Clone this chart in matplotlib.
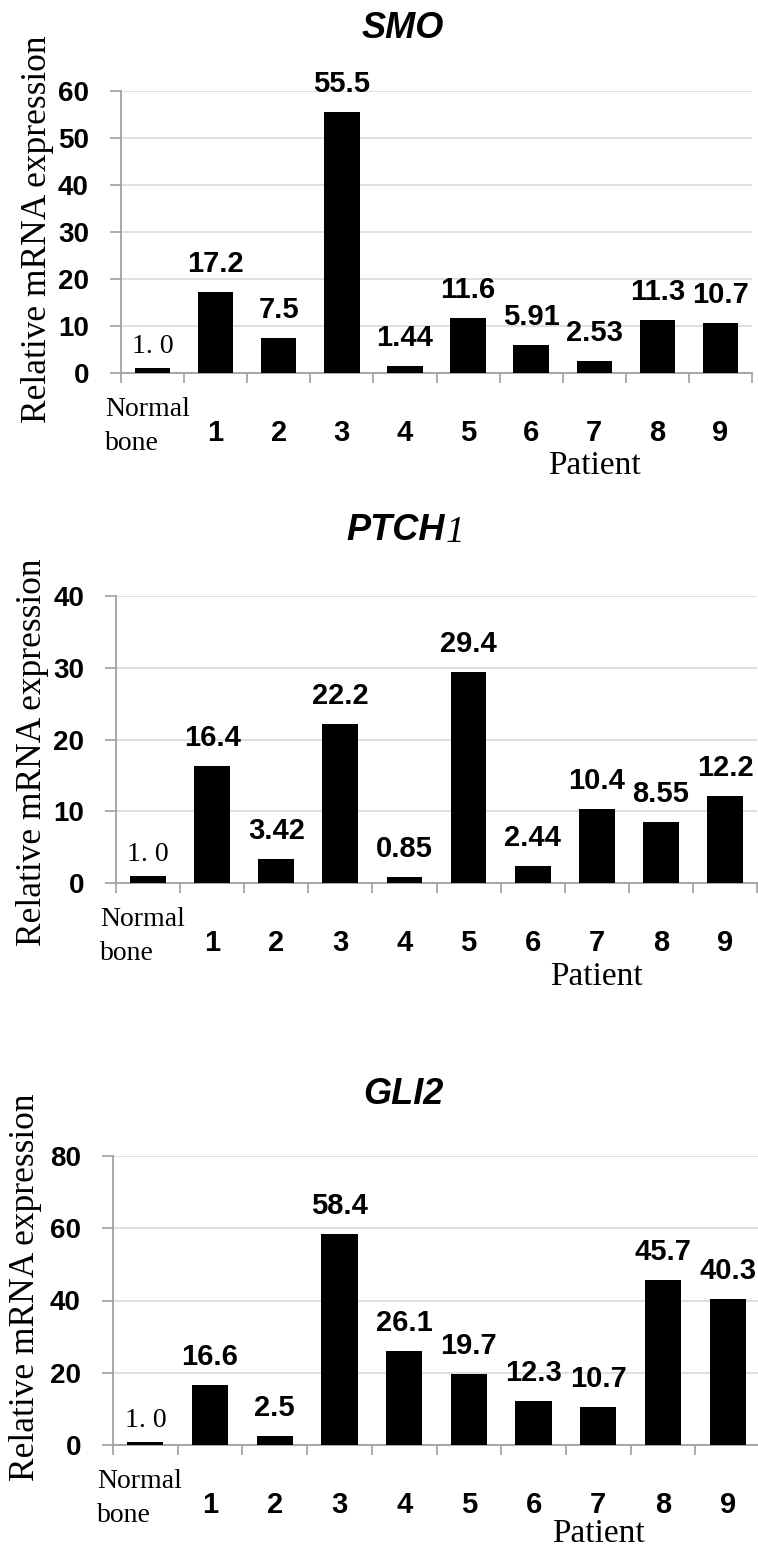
import matplotlib
matplotlib.use("Agg")
import matplotlib.pyplot as plt
import numpy as np

# ---------------- data ----------------
categories = ["Normal\nbone", "1", "2", "3", "4", "5", "6", "7", "8", "9"]

smo_values = [1.0, 17.2, 7.5, 55.5, 1.44, 11.6, 5.91, 2.53, 11.3, 10.7]
smo_labels = ["1. 0", "17.2", "7.5", "55.5", "1.44", "11.6", "5.91", "2.53", "11.3", "10.7"]
smo_yticks = [0, 10, 20, 30, 40, 50, 60]

ptch1_values = [1.0, 16.4, 3.42, 22.2, 0.85, 29.4, 2.44, 10.4, 8.55, 12.2]
ptch1_labels = ["1. 0", "16.4", "3.42", "22.2", "0.85", "29.4", "2.44", "10.4", "8.55", "12.2"]
ptch1_yticks = [0, 10, 20, 30, 40]

gli2_values = [1.0, 16.6, 2.5, 58.4, 26.1, 19.7, 12.3, 10.7, 45.7, 40.3]
gli2_labels = ["1. 0", "16.6", "2.5", "58.4", "26.1", "19.7", "12.3", "10.7", "45.7", "40.3"]
gli2_yticks = [0, 20, 40, 60, 80]

ylabel_text = "Relative mRNA expression"
xlabel_text = "Patient"

# ---------------- layout ----------------
W, H = 758, 1549
SANS = ["Liberation Sans", "DejaVu Sans"]
SERIF = ["Liberation Serif", "DejaVu Serif"]
GRAY = "#a0a0a0"
GRID = "#d9d9d9"


def pt(px):
    return px * 0.72


fig = plt.figure(figsize=(W / 100, H / 100), dpi=100)

panels = [
    dict(title="SMO", values=smo_values, labels=smo_labels, yticks=smo_yticks,
         left=121, right=752, y0=373, ytop=90.7, title_y=28, ylab_x=38, ylab_y=229,
         patient_dy=93),
    dict(title="PTCH", values=ptch1_values, labels=ptch1_labels, yticks=ptch1_yticks,
         left=116, right=757, y0=883.3, ytop=596, title_y=531, ylab_x=33, ylab_y=752,
         patient_dy=93),
    dict(title="GLI2", values=gli2_values, labels=gli2_labels, yticks=gli2_yticks,
         left=113, right=760, y0=1445.3, ytop=1155.7, title_y=1094, ylab_x=26, ylab_y=1287,
         patient_dy=88),
]

for k, p in enumerate(panels):
    ax = fig.add_axes([p["left"] / W, 1 - p["y0"] / H,
                       (p["right"] - p["left"]) / W, (p["y0"] - p["ytop"]) / H])
    x = np.arange(len(categories))
    ax.bar(x, p["values"], width=0.56, color="black", zorder=3)
    ax.set_xlim(-0.5, len(categories) - 0.5)
    ax.set_ylim(p["yticks"][0], p["yticks"][-1])
    ax.set_yticks(p["yticks"])
    ax.set_yticklabels([str(t) for t in p["yticks"]], fontfamily=SANS,
                       fontweight="bold", fontsize=20)
    ax.yaxis.grid(True, color=GRID, lw=1.2, zorder=0)
    ax.set_axisbelow(True)
    for s in ("top", "right"):
        ax.spines[s].set_visible(False)
    for s in ("left", "bottom"):
        ax.spines[s].set_color(GRAY)
        ax.spines[s].set_linewidth(1.3)
    ax.set_xticks(np.arange(-0.5, len(categories), 1))
    ax.set_xticklabels([])
    ax.tick_params(axis="x", length=pt(10), width=1.2, color=GRAY, direction="out")
    ax.tick_params(axis="y", length=pt(11), width=1.2, color=GRAY, direction="out",
                   pad=pt(21))

    # value labels
    for i, (v, lab) in enumerate(zip(p["values"], p["labels"])):
        if i == 0:
            ax.annotate(lab, xy=(i, v), xytext=(0, pt(9)), textcoords="offset points",
                        ha="center", va="bottom", fontfamily=SERIF, fontsize=20)
        else:
            ax.annotate(lab, xy=(i, v), xytext=(0, pt(14)), textcoords="offset points",
                        ha="center", va="bottom", fontfamily=SANS, fontweight="bold",
                        fontsize=21)

    # category labels
    for i, cat in enumerate(categories):
        if i == 0:
            top, bottom = cat.split("\n")
            ax.annotate(top, xy=(-0.5, 0), xycoords=("data", "axes fraction"),
                        xytext=(pt(-16), pt(-36)), textcoords="offset points",
                        ha="left", va="center", fontfamily=SERIF, fontsize=20)
            ax.annotate(bottom, xy=(-0.5, 0), xycoords=("data", "axes fraction"),
                        xytext=(pt(-16), pt(-70)), textcoords="offset points",
                        ha="left", va="center", fontfamily=SERIF, fontsize=20)
        else:
            ax.annotate(cat, xy=(i, 0), xycoords=("data", "axes fraction"),
                        xytext=(0, pt(-60)), textcoords="offset points",
                        ha="center", va="center", fontfamily=SANS, fontweight="bold",
                        fontsize=21)

    # x label
    ax.annotate(xlabel_text, xy=(7.0, 0), xycoords=("data", "axes fraction"),
                xytext=(0, pt(-p["patient_dy"])), textcoords="offset points",
                ha="center", va="center", fontfamily=SERIF, fontsize=24)

    # y label
    fig.text(p["ylab_x"] / W, 1 - p["ylab_y"] / H, ylabel_text, rotation=90,
             ha="center", va="center", fontfamily=SERIF, fontsize=25.5)

    # title
    if p["title"] == "PTCH":
        fig.text(445 / W, 1 - p["title_y"] / H, "PTCH", ha="right", va="center",
                 fontfamily=SANS, fontweight="bold", fontstyle="italic", fontsize=26)
        fig.text(446 / W, 1 - (p["title_y"] + 2) / H, "1", ha="left", va="center",
                 fontfamily=SERIF, fontstyle="italic", fontsize=27)
    else:
        fig.text(403 / W, 1 - p["title_y"] / H, p["title"], ha="center", va="center",
                 fontfamily=SANS, fontweight="bold", fontstyle="italic", fontsize=26)

fig.savefig("out.png", dpi=100)
